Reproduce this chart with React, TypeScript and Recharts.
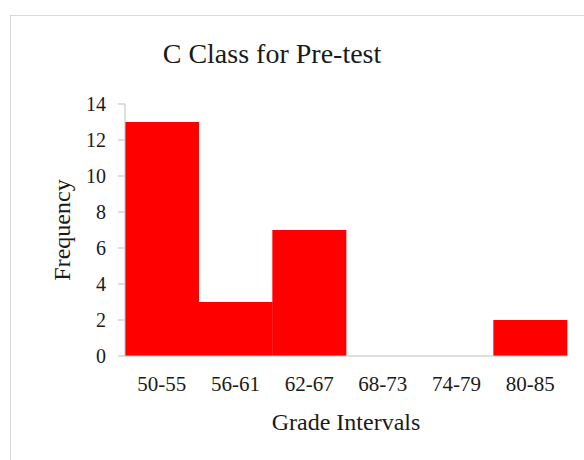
import React from "react";
import { BarChart, Bar, XAxis, YAxis, Label } from "recharts";

const intervals = ["50-55", "56-61", "62-67", "68-73", "74-79", "80-85"];
const frequency = [13, 3, 7, 0, 0, 2];
const yTicks = [0, 2, 4, 6, 8, 10, 12, 14];

const data = intervals.map((name, i) => ({ name, value: frequency[i] }));

const FONT = '"Liberation Serif", "DejaVu Serif", serif';

export default function App() {
  return (
    <div style={{ position: "absolute", left: 0, top: 0, width: 584, height: 460, background: "#fff" }}>
      <style>{`body{margin:0;overflow:hidden}`}</style>
      <div
        style={{
          position: "absolute",
          left: 10,
          top: 15,
          width: 574,
          height: 445,
          borderLeft: "1px solid #d9d9d9",
          borderTop: "1px solid #d9d9d9",
          boxSizing: "border-box",
        }}
      >
        <div
          style={{
            position: "absolute",
            left: 0,
            top: 25,
            width: 522,
            textAlign: "center",
            fontFamily: FONT,
            fontSize: 28,
            lineHeight: "26px",
            color: "#1a1a1a",
          }}
        >
          C Class for Pre-test
        </div>
        <BarChart
          width={573}
          height={444}
          data={data}
          barCategoryGap={0}
          margin={{ top: 88, right: 17, left: 0, bottom: 0 }}
          style={{ fontFamily: FONT }}
        >
          <XAxis
            dataKey="name"
            height={104}
            tickLine={false}
            tickSize={0}
            tickMargin={20}
            stroke="#bfbfbf"
            tick={{ fill: "#1a1a1a", fontSize: 21 }}
          >
            <Label value="Grade Intervals" position="insideBottom" offset={30} fill="#1a1a1a" fontSize={24} />
          </XAxis>
          <YAxis
            width={114}
            domain={[0, 14]}
            ticks={yTicks}
            tickSize={7}
            tickMargin={12}
            stroke="#bfbfbf"
            tick={{ fill: "#1a1a1a", fontSize: 20 }}
          >
            <Label
              value="Frequency"
              angle={-90}
              position="insideLeft"
              offset={50}
              fill="#1a1a1a"
              fontSize={24}
              style={{ textAnchor: "middle" }}
            />
          </YAxis>
          <Bar dataKey="value" fill="#ff0000" isAnimationActive={false} />
        </BarChart>
      </div>
    </div>
  );
}
